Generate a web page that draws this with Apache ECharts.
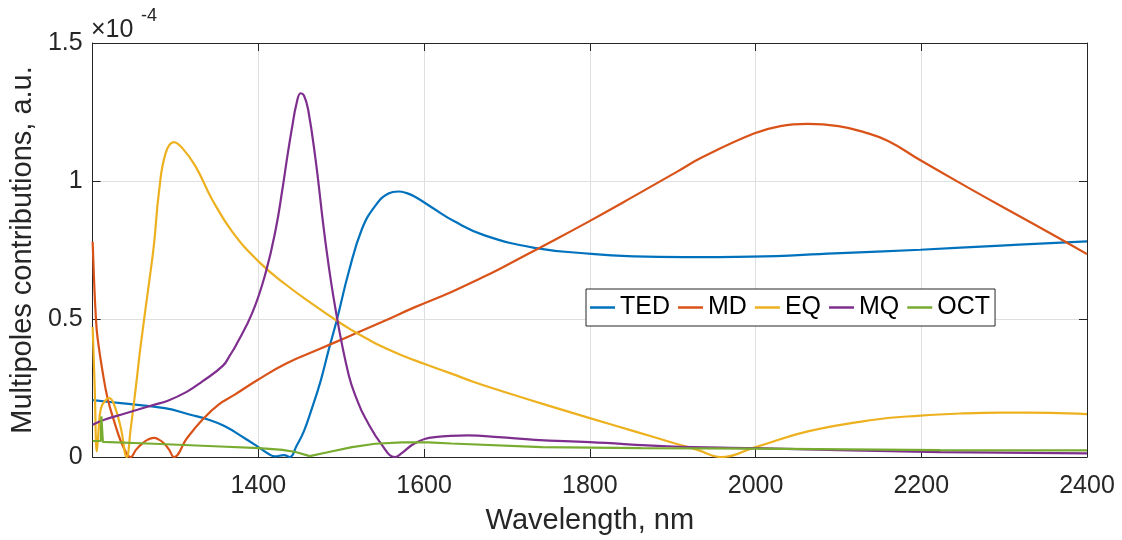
<!DOCTYPE html>
<html>
<head>
<meta charset="utf-8">
<script src="https://cdn.jsdelivr.net/npm/echarts@6/dist/echarts.min.js"></script>
<style>
html,body{margin:0;padding:0;background:#fff;}
#chart{width:1122px;height:540px;}
</style>
</head>
<body>
<div id="chart"></div>
<script>
// Values are in units of 1e-4 (a.u.), x in nm
const seriesNames = ['TED', 'MD', 'EQ', 'MQ', 'OCT'];
const xTicks = [1400, 1600, 1800, 2000, 2200, 2400];
const yTicks = [0, 0.5, 1, 1.5];

const tedData = [[1200,0.206],[1234,0.195],[1287,0.177],[1318,0.153],[1340,0.135],[1359,0.112],[1383,0.069],[1400,0.036],[1412,0.012],[1420,0.002],[1431,0.007],[1438,0.0],[1446,0.04],[1455,0.094],[1465,0.18],[1475,0.274],[1485,0.39],[1495,0.5],[1509,0.67],[1525,0.826],[1541,0.91],[1557,0.955],[1569,0.962],[1580,0.955],[1589,0.943],[1609,0.905],[1637,0.853],[1673,0.803],[1733,0.758],[1802,0.736],[1854,0.727],[1914,0.724],[1995,0.726],[2095,0.738],[2199,0.751],[2296,0.766],[2400,0.781]];

const mdData = [[1200,0.78],[1202,0.62],[1204,0.5],[1206,0.43],[1212,0.309],[1218,0.213],[1226,0.129],[1234,0.057],[1242,0.008],[1246,0],[1252,0.025],[1258,0.044],[1266,0.062],[1274,0.069],[1280,0.063],[1286,0.05],[1292,0.028],[1298,0],[1314,0.069],[1334,0.14],[1352,0.19],[1371,0.225],[1399,0.279],[1433,0.338],[1473,0.39],[1509,0.437],[1549,0.489],[1589,0.543],[1633,0.598],[1670,0.650],[1694,0.686],[1742,0.762],[1798,0.852],[1854,0.946],[1906,1.035],[1935,1.085],[1998,1.172],[2030,1.199],[2063,1.207],[2100,1.199],[2130,1.178],[2160,1.145],[2199,1.075],[2256,0.977],[2300,0.903],[2335,0.845],[2368,0.79],[2400,0.735]];

const eqData = [[1200,0.471],[1202.5,0.25],[1205,0.02],[1207,0.09],[1210,0.177],[1216,0.207],[1220,0.213],[1226,0.189],[1234,0.105],[1241,0],[1246,0.105],[1252,0.25],[1258,0.405],[1268,0.63],[1274,0.77],[1280,0.96],[1288,1.10],[1298,1.141],[1308,1.12],[1324,1.054],[1344,0.934],[1369,0.814],[1401,0.706],[1433,0.625],[1465,0.555],[1497,0.489],[1513,0.459],[1530,0.43],[1549,0.40],[1575,0.366],[1600,0.338],[1633,0.302],[1660,0.272],[1702,0.231],[1750,0.186],[1800,0.141],[1854,0.093],[1902,0.05],[1930,0.026],[1958,0],[1999,0.035],[2063,0.093],[2143,0.135],[2199,0.15],[2250,0.158],[2296,0.161],[2356,0.16],[2400,0.155]];

const mqData = [[1200,0.117],[1214,0.135],[1234,0.153],[1254,0.171],[1274,0.189],[1290,0.203],[1314,0.237],[1332,0.273],[1357,0.33],[1366,0.37],[1373,0.405],[1393,0.525],[1409,0.67],[1421,0.826],[1429,0.97],[1435,1.09],[1441,1.20],[1446,1.28],[1451,1.318],[1455,1.31],[1460,1.26],[1469,1.078],[1481,0.778],[1493,0.537],[1509,0.297],[1520,0.2],[1529,0.141],[1549,0.044],[1565,0],[1573,0.014],[1589,0.05],[1613,0.072],[1653,0.078],[1690,0.072],[1734,0.062],[1800,0.054],[1894,0.039],[1999,0.032],[2100,0.025],[2223,0.018],[2400,0.013]];

const octData = [[1200,0.058],[1209.8,0.058],[1210.5,0.147],[1211.3,0.147],[1212.3,0.055],[1274,0.048],[1354,0.038],[1401,0.032],[1429,0.026],[1445,0.018],[1462,0.003],[1485,0.018],[1513,0.036],[1541,0.048],[1573,0.053],[1605,0.053],[1633,0.049],[1742,0.036],[1862,0.032],[1999,0.03],[2223,0.025],[2400,0.024]];

const colors = ['#0072BD', '#D95319', '#EDB120', '#7E2F8E', '#77AC30'];
const allData = [tedData, mdData, eqData, mqData, octData];
const smoothing = [0.45, 0.45, 0.45, 0.45, 0];

const FONT = '"Liberation Sans", Arial, Helvetica, sans-serif';
const AX = '#262626';

const chart = echarts.init(document.getElementById('chart'), null, {renderer: 'canvas'});

const baseX = {
  type: 'value', min: 1200, max: 2400, interval: 200,
  axisLine: {show: true, onZero: false, lineStyle: {color: AX, width: 1}},
  axisTick: {show: true, inside: true, length: 8, lineStyle: {color: AX}},
};
const baseY = {
  type: 'value', min: 0, max: 1.5, interval: 0.5,
  axisLine: {show: true, onZero: false, lineStyle: {color: AX, width: 1}},
  axisTick: {show: true, inside: true, length: 8, lineStyle: {color: AX}},
};

chart.setOption({
  animation: false,
  backgroundColor: '#ffffff',
  color: colors,
  grid: {left: 90, right: 35, top: 43, bottom: 81, containLabel: false},
  xAxis: [
    Object.assign({}, baseX, {
      position: 'bottom',
      name: 'Wavelength, nm', nameLocation: 'middle', nameGap: 49,
      nameTextStyle: {fontFamily: FONT, fontSize: 29, color: AX},
      axisLabel: {
        fontFamily: FONT, fontSize: 25, color: AX, margin: 17,
        formatter: v => xTicks.includes(v) ? String(v) : ''
      },
      splitLine: {show: true, lineStyle: {color: '#dfdfdf', width: 1}}
    }),
    Object.assign({}, baseX, {
      position: 'top', axisLabel: {show: false}, splitLine: {show: false}
    })
  ],
  yAxis: [
    Object.assign({}, baseY, {
      position: 'left',
      name: 'Multipoles contributions, a.u.', nameLocation: 'middle', nameGap: 52,
      nameTextStyle: {fontFamily: FONT, fontSize: 29, color: AX},
      axisLabel: {
        fontFamily: FONT, fontSize: 25, color: AX, margin: 10,
        formatter: v => yTicks.includes(v) ? String(v) : ''
      },
      splitLine: {show: true, lineStyle: {color: '#dfdfdf', width: 1}}
    }),
    Object.assign({}, baseY, {
      position: 'right', axisLabel: {show: false}, splitLine: {show: false}
    })
  ],
  legend: {
    data: seriesNames,
    left: 586, top: 289,
    orient: 'horizontal',
    icon: 'rect',
    itemWidth: 25, itemHeight: 2.5, itemGap: 8,
    padding: [6, 5, 6, 4],
    borderColor: '#262626', borderWidth: 1,
    backgroundColor: '#ffffff',
    textStyle: {fontFamily: FONT, fontSize: 25, color: '#000', padding: [0, 0, 0, 0]},
    selectedMode: false
  },
  graphic: [
    {type: 'text', left: 91, top: 18, style: {text: '\u00d710', fontFamily: FONT, fontSize: 25, fill: AX}},
    {type: 'text', left: 141, top: 7, style: {text: '-4', fontFamily: FONT, fontSize: 18, fill: AX}}
  ],
  series: seriesNames.map((n, i) => ({
    name: n, type: 'line', xAxisIndex: 0, yAxisIndex: 0,
    data: allData[i], showSymbol: false, symbol: 'none',
    smooth: smoothing[i],
    lineStyle: {width: 2.2, color: colors[i]},
    itemStyle: {color: colors[i]},
    z: 2 + i
  }))
});
</script>
</body>
</html>
